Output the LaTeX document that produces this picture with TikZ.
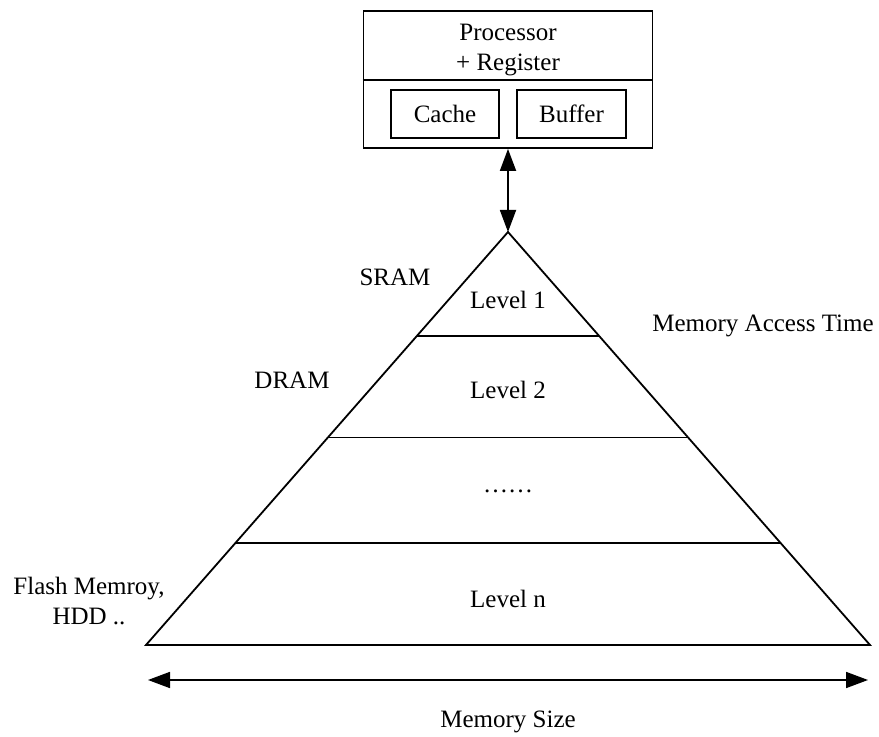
\documentclass[tikz,border=0pt]{standalone}
\usepackage{fontspec}
\setmainfont{Liberation Serif}
\usetikzlibrary{arrows.meta,calc}

\tikzset{
  line/.style={line width=0.9pt},
  box/.style={draw, line, inner sep=0pt},
  lbl/.style={font=\fontsize{12.5}{15}\selectfont, inner sep=0pt, align=center},
  dbl/.style={line, {Triangle[length=11pt,width=8pt]}-{Triangle[length=11pt,width=8pt]}},
}

\begin{document}
\begin{tikzpicture}[x=0.5pt, y=-0.5pt]
  \useasboundingbox (0,0) rectangle (879,737);

  % processor block
  \node[box, minimum width=144.5pt, minimum height=68.5pt] (proc) at (508,79.5) {};
  \coordinate (divL) at (proc.west);
  \draw[line] (proc.west |- 0,80) -- (proc.east |- 0,80);
  \node[lbl] (proctext) at (508,50) {Processor\\+ Register};
  \node[box, minimum width=54pt, minimum height=24pt, lbl] (cache) at (445,114) {Cache};
  \node[box, minimum width=54.5pt, minimum height=24pt, lbl] (buffer) at (571.5,114) {Buffer};

  % pyramid
  \coordinate (apex) at (508,232);
  \coordinate (bl) at (146,645);
  \coordinate (br) at (870,645);
  \draw[line, line join=miter] (apex) -- (bl) -- (br) -- cycle;
  \foreach \t [count=\i] in {0.2524,0.4976,0.7524} {
    \coordinate (l\i) at ($(apex)!\t!(bl)$);
    \coordinate (r\i) at ($(apex)!\t!(br)$);
    \draw[line] (l\i) -- (r\i);
  }

  \node[lbl] (lev1) at (508,300) {Level 1};
  \node[lbl] (lev2) at (508,390) {Level 2};
  \node[lbl] (levdots) at (508,491) {……};
  \node[lbl] (levn) at (508,599) {Level n};

  % side labels
  \node[lbl] (sram) at (395,277) {SRAM};
  \node[lbl] (dram) at (292,380) {DRAM};
  \node[lbl] (flash) at (89,601) {Flash Memroy,\\HDD ..};
  \node[lbl] (mat) at (763,326) {Memory Access Time};

  % connectors
  \draw[dbl] (proc.south) -- (apex);
  \coordinate (sizeL) at (148,680);
  \coordinate (sizeR) at (868,680);
  \draw[dbl] (sizeL) -- (sizeR);
  \node[lbl] (msize) at (508,722) {Memory Size};
\end{tikzpicture}
\end{document}
